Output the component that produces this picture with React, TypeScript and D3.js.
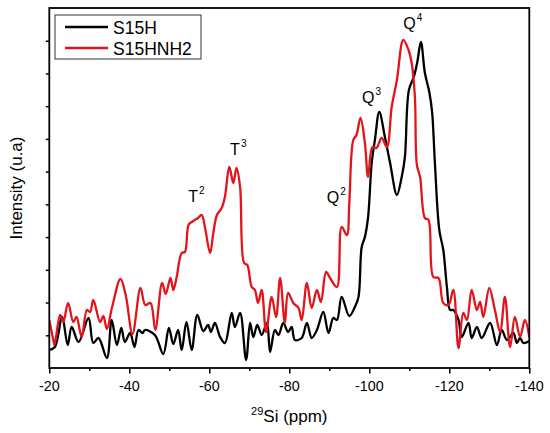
import * as d3 from 'd3';
import {useEffect, useRef} from 'react';

// chemical shift (ppm) / intensity (a.u.)
const s15hShift = [
	-20.0, -21.4, -23.2, -24.6, -25.6, -27.3, -29.8, -31.0, -32.3, -34.4, -35.6, -36.9, -38.0, -38.9, -40.2, -41.3,
	-42.3, -43.3, -43.9, -46.4, -48.5, -49.9, -51.0, -52.2, -53.1, -54.3, -55.6, -57.0, -58.5, -59.7, -60.4, -61.4,
	-62.7, -63.9, -65.6, -66.4, -67.7, -69.2, -70.2, -71.0, -72.0, -73.1, -74.4, -75.2, -76.4, -77.3, -78.5, -79.7,
	-80.6, -81.4, -83.1, -84.4, -85.6, -86.9, -88.5, -89.8, -91.0, -91.9, -93.1, -95.0, -96.4, -97.3, -98.1, -98.9,
	-99.7, -100.6, -101.4, -102.5, -103.9, -105.2, -106.9, -108.1, -108.9, -109.9, -111.2, -112.0, -112.9, -113.9,
	-115.0, -115.7, -116.4, -117.5, -118.5, -119.4, -120.2, -121.0, -122.3, -123.1, -124.8, -125.6, -126.9, -128.1,
	-130.2, -131.9, -133.1, -134.4, -136.0, -136.9, -137.7, -138.5, -140.0,
];
const s15hIntensity = [
	18, 21, 51, 23, 41, 26, 50, 25, 30, 10, 48, 23, 40, 26, 35, 21,
	38, 35, 38, 33, 14, 40, 24, 38, 18, 46, 18, 53, 37, 43, 36, 45,
	31, 25, 55, 41, 55, 8, 45, 31, 43, 33, 45, 16, 38, 33, 45, 36,
	41, 28, 30, 45, 30, 38, 56, 35, 50, 48, 71, 52, 61, 71, 121, 131,
	151, 205, 228, 256, 231, 205, 173, 191, 211, 278, 292, 306, 326, 295,
	276, 256, 205, 138, 118, 81, 58, 58, 48, 31, 45, 30, 41, 30,
	45, 23, 38, 28, 35, 25, 30, 25, 27,
];

const s15hnh2Shift = [
	-20.0, -21.0, -21.3, -22.7, -23.5, -24.7, -26.0, -26.8, -28.1, -29.4, -30.2, -31.0, -32.7, -33.5, -34.4, -35.7,
	-37.8, -39.1, -40.8, -42.8, -44.0, -45.3, -46.5, -48.2, -49.1, -50.3, -51.0, -51.8, -53.1, -53.9, -54.8, -55.6,
	-56.4, -57.2, -58.1, -58.9, -60.2, -61.0, -61.9, -63.1, -63.9, -65.0, -66.0, -66.8, -67.7, -68.7, -69.5, -70.6,
	-71.4, -72.2, -73.1, -74.2, -75.6, -76.7, -77.7, -78.9, -79.7, -81.0, -82.3, -83.1, -84.4, -85.6, -86.9, -87.9,
	-89.2, -90.2, -91.9, -93.1, -94.4, -95.0, -96.0, -96.8, -97.8, -98.9, -99.7, -100.8, -101.8, -103.1, -104.4,
	-105.6, -106.9, -108.5, -109.8, -110.6, -111.4, -111.9, -112.7, -113.9, -114.8, -116.0, -117.3, -118.5, -119.8,
	-121.0, -122.3, -123.5, -124.4, -125.6, -126.9, -127.7, -128.5, -130.0, -131.4, -132.7, -133.9, -135.2, -136.4,
	-137.7, -138.9, -140.0,
];
const s15hnh2Intensity = [
	48, 28, 23, 53, 46, 65, 46, 51, 31, 58, 56, 68, 46, 52, 39, 61,
	89, 73, 34, 80, 63, 65, 38, 85, 74, 90, 78, 90, 115, 116, 143, 146,
	148, 150, 153, 141, 115, 135, 153, 160, 171, 201, 185, 200, 181, 105, 103, 81,
	78, 65, 78, 36, 71, 51, 90, 45, 75, 65, 60, 48, 85, 60, 78, 66,
	96, 90, 81, 141, 133, 165, 228, 233, 250, 225, 191, 221, 220, 230, 221,
	261, 288, 328, 318, 305, 271, 203, 191, 150, 148, 91, 90, 65, 63,
	78, 20, 55, 48, 78, 58, 66, 51, 80, 58, 36, 71, 21, 51,
	31, 48, 31,
];

const seriesNames = ['S15H', 'S15HNH2'];
const seriesColors = ['#000000', '#e3141b'];
const xTicks = [-20, -40, -60, -80, -100, -120, -140];

// ppm = left edge of each label
const peakLabels = [
	{base: 'T', sup: '2', ppm: -54.75, y: 202},
	{base: 'T', sup: '3', ppm: -65.2, y: 155},
	{base: 'Q', sup: '2', ppm: -89.35, y: 203},
	{base: 'Q', sup: '3', ppm: -98.2, y: 103},
	{base: 'Q', sup: '4', ppm: -108.5, y: 29},
];

export default function App() {
	const svgRef = useRef(null);

	const width = 550;
	const height = 433;
	const margin = {top: 8, right: 20.7, bottom: 65, left: 49.3};

	useEffect(() => {
		const svg = d3.select(svgRef.current);
		svg.selectAll('*').remove();

		const font = "'Liberation Sans', Arial, sans-serif";

		const x = d3
			.scaleLinear()
			.domain([-20, -140])
			.range([margin.left, width - margin.right]);
		const y = d3
			.scaleLinear()
			.domain([0, 360])
			.range([height - margin.bottom, margin.top]);

		const series = [
			s15hShift.map((p, i) => [p, s15hIntensity[i]]),
			s15hnh2Shift.map((p, i) => [p, s15hnh2Intensity[i]]),
		];

		const line = d3
			.line<number[]>()
			.x((d) => x(d[0]))
			.y((d) => y(d[1]))
			.curve(d3.curveCatmullRom.alpha(0.5));

		const plot = svg.append('g');
		plot.append('clipPath')
			.attr('id', 'clip')
			.append('rect')
			.attr('x', margin.left)
			.attr('y', margin.top)
			.attr('width', width - margin.left - margin.right)
			.attr('height', height - margin.top - margin.bottom);

		series.forEach((s, i) => {
			plot.append('path')
				.datum(s)
				.attr('d', line)
				.attr('fill', 'none')
				.attr('stroke', seriesColors[i])
				.attr('stroke-width', 2.3)
				.attr('stroke-linejoin', 'round')
				.attr('clip-path', 'url(#clip)');
		});

		// bottom axis
		const xAxis = svg
			.append('g')
			.attr('transform', `translate(0,${height - margin.bottom})`)
			.call(
				d3.axisBottom(x)
					.tickValues(d3.range(-20, -141, -10))
					.tickSize(3)
					.tickFormat(() => ''),
			);
		xAxis.select('.domain').remove();
		xAxis.selectAll('line').attr('stroke-width', 1.5);
		xAxis.selectAll('.tick')
			.filter((d) => xTicks.includes(d as number))
			.select('line')
			.attr('y2', 5.5);

		svg.append('g')
			.selectAll('text')
			.data(xTicks)
			.join('text')
			.attr('x', (d) => x(d))
			.attr('y', height - margin.bottom + 23)
			.attr('text-anchor', 'middle')
			.style('font-family', font)
			.style('font-size', '14.3px')
			.text((d) => d);

		// left axis, unlabeled
		const yAxis = svg
			.append('g')
			.attr('transform', `translate(${margin.left},0)`)
			.call(
				d3.axisLeft(y)
					.tickValues(d3.range(1, 11).map((k) => (k * 360) / 11))
					.tickSize(3.5)
					.tickFormat(() => ''),
			);
		yAxis.select('.domain').remove();
		yAxis.selectAll('line').attr('stroke-width', 1.5);

		// frame
		svg.append('rect')
			.attr('x', margin.left)
			.attr('y', margin.top)
			.attr('width', width - margin.left - margin.right)
			.attr('height', height - margin.top - margin.bottom)
			.attr('fill', 'none')
			.attr('stroke', '#000')
			.attr('stroke-width', 1.8);

		// axis titles
		const xt = svg
			.append('text')
			.attr('x', (margin.left + width - margin.right) / 2)
			.attr('y', 422)
			.attr('text-anchor', 'middle')
			.style('font-family', font)
			.style('font-size', '17px');
		xt.append('tspan').attr('dy', -7).style('font-size', '11px').text('29');
		xt.append('tspan').attr('dy', 7).text('Si (ppm)');

		svg.append('text')
			.attr('transform', `translate(22,${(margin.top + height - margin.bottom) / 2}) rotate(-90)`)
			.attr('text-anchor', 'middle')
			.style('font-family', font)
			.style('font-size', '17px')
			.text('Intensity (u.a)');

		// peak labels
		peakLabels.forEach((p) => {
			const t = svg
				.append('text')
				.attr('x', x(p.ppm))
				.attr('y', p.y)
				.style('font-family', font)
				.style('font-size', '16px');
			t.append('tspan').text(p.base);
			t.append('tspan').attr('dx', 1).attr('dy', -8).style('font-size', '10px').text(p.sup);
		});

		// legend
		const legend = svg.append('g');
		legend.append('rect')
			.attr('x', 55)
			.attr('y', 15)
			.attr('width', 146)
			.attr('height', 44)
			.attr('fill', '#fff')
			.attr('stroke', '#333')
			.attr('stroke-width', 1);
		seriesNames.forEach((name, i) => {
			legend.append('line')
				.attr('x1', 65)
				.attr('x2', 108)
				.attr('y1', 27 + i * 21)
				.attr('y2', 27 + i * 21)
				.attr('stroke', seriesColors[i])
				.attr('stroke-width', 2.3);
			legend.append('text')
				.attr('x', 113)
				.attr('y', 33.5 + i * 21)
				.style('font-family', font)
				.style('font-size', '17.5px')
				.text(name);
		});
	}, []);

	return (
		<div style={{position: 'absolute', left: 0, top: 0, background: '#fff'}}>
			<svg ref={svgRef} width={width} height={height} style={{display: 'block'}} />
		</div>
	);
}
